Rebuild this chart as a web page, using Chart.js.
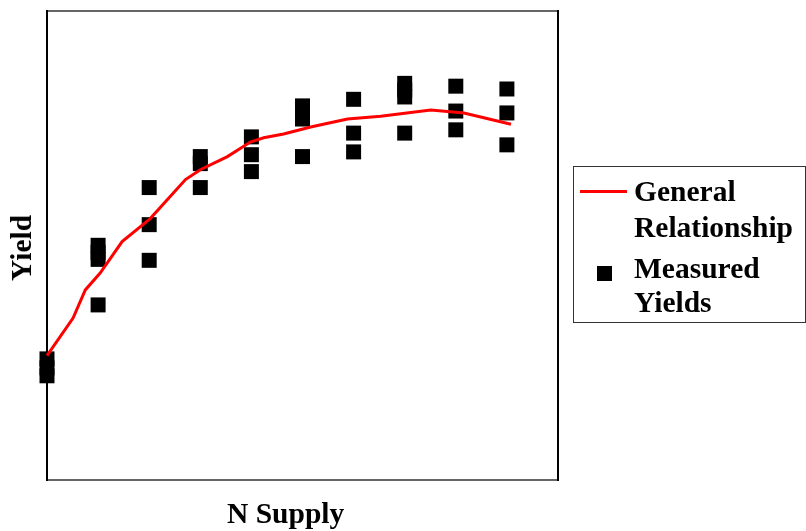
<!DOCTYPE html>
<html>
<head>
<meta charset="utf-8">
<script src="https://cdn.jsdelivr.net/npm/chart.js@4"></script>
<style>
  body { margin: 0; background: #fff; }
  #wrap { position: relative; width: 806px; height: 531px; }
  .lbl { position: absolute; font: bold 29.5px "Liberation Serif", "Times New Roman", serif; color: #000; line-height: 36px; white-space: nowrap; }
  #legendBox { position: absolute; left: 573px; top: 166px; width: 231px; height: 155px; border: 1px solid #333; }
  #legLine { position: absolute; left: 580px; top: 190px; width: 47px; height: 3px; background: #ff0000; }
  #legSquare { position: absolute; left: 597px; top: 266px; width: 15px; height: 15px; background: #000; }
  #yTitle { left: 21px; top: 248px; transform: translate(-50%, -50%) rotate(-90deg); }
</style>
</head>
<body>
<div id="wrap">
  <canvas id="chart" width="806" height="531"></canvas>
  <div id="legendBox"></div>
  <div id="legLine"></div>
  <div id="legSquare"></div>
  <div class="lbl" style="left:634px; top:173px">General</div>
  <div class="lbl" style="left:634px; top:209px">Relationship</div>
  <div class="lbl" style="left:634px; top:250px">Measured</div>
  <div class="lbl" style="left:634px; top:284px">Yields</div>
  <div class="lbl" style="left:227px; top:495px">N Supply</div>
  <div class="lbl" id="yTitle">Yield</div>
</div>
<script>
// general relationship curve (N supply vs yield)
const curveX = [0, 0.51, 0.75, 1.04, 1.47, 2.02, 2.71, 3.0, 3.53, 3.98, 4.24, 4.63, 5.16, 5.88, 6.53, 7.51, 8.16, 9.08];
const curveY = [26.5, 34.5, 40.5, 44.1, 50.8, 55.7, 64.0, 66.1, 68.9, 72.0, 72.9, 73.7, 75.2, 76.9, 77.5, 78.8, 78.2, 75.8];

// measured yields
const measuredX = [0, 0, 0, 1, 1, 1, 1, 2, 2, 2, 3, 3, 3, 4, 4, 4, 5, 5, 5, 5, 6, 6, 6, 7, 7, 7, 7, 8, 8, 8, 9, 9, 9];
const measuredY = [25.8, 23.9, 22.2, 50.0, 48.5, 47.0, 37.3, 62.3, 54.4, 46.8, 68.9, 67.4, 62.3, 73.1, 69.3, 65.7,
                   79.7, 78.4, 76.9, 68.9, 81.1, 73.9, 69.9, 84.5, 83.1, 81.6, 73.9, 83.9, 78.6, 74.6, 83.3, 78.2, 71.4];

const curvePts = curveX.map((x, i) => ({ x: x, y: curveY[i] }));
const measuredPts = measuredX.map((x, i) => ({ x: x, y: measuredY[i] }));

const hidden = { display: false };

new Chart(document.getElementById('chart').getContext('2d'), {
    type: 'scatter',
    data: {
        datasets: [
            {
                label: 'General Relationship',
                data: curvePts,
                showLine: true,
                borderColor: '#ff0000',
                borderWidth: 3,
                pointRadius: 0,
                tension: 0,
                clip: false,
                order: 1
            },
            {
                label: 'Measured Yields',
                data: measuredPts,
                pointStyle: 'rect',
                pointRadius: 10.6,
                pointHoverRadius: 10.6,
                backgroundColor: '#000',
                borderWidth: 0,
                clip: false,
                order: 2
            }
        ]
    },
    options: {
        responsive: false,
        animation: false,
        layout: { padding: { left: 47, right: 248, top: 8, bottom: 51 } },
        scales: {
            x: {
                type: 'linear', min: 0, max: 10,
                ticks: hidden,
                grid: { display: false, drawTicks: false },
                border: { display: true, color: '#666', width: 2 }
            },
            x2: {
                type: 'linear', position: 'top', min: 0, max: 10,
                ticks: hidden,
                grid: { display: false, drawTicks: false },
                border: { display: true, color: '#666', width: 2 }
            },
            y: {
                type: 'linear', min: 0, max: 100,
                ticks: hidden,
                grid: { display: false, drawTicks: false },
                border: { display: true, color: '#000', width: 2 }
            },
            y2: {
                type: 'linear', position: 'right', min: 0, max: 100,
                ticks: hidden,
                grid: { display: false, drawTicks: false },
                border: { display: true, color: '#000', width: 2 }
            }
        },
        plugins: {
            legend: { display: false },
            tooltip: { enabled: false }
        }
    }
});
</script>
</body>
</html>
